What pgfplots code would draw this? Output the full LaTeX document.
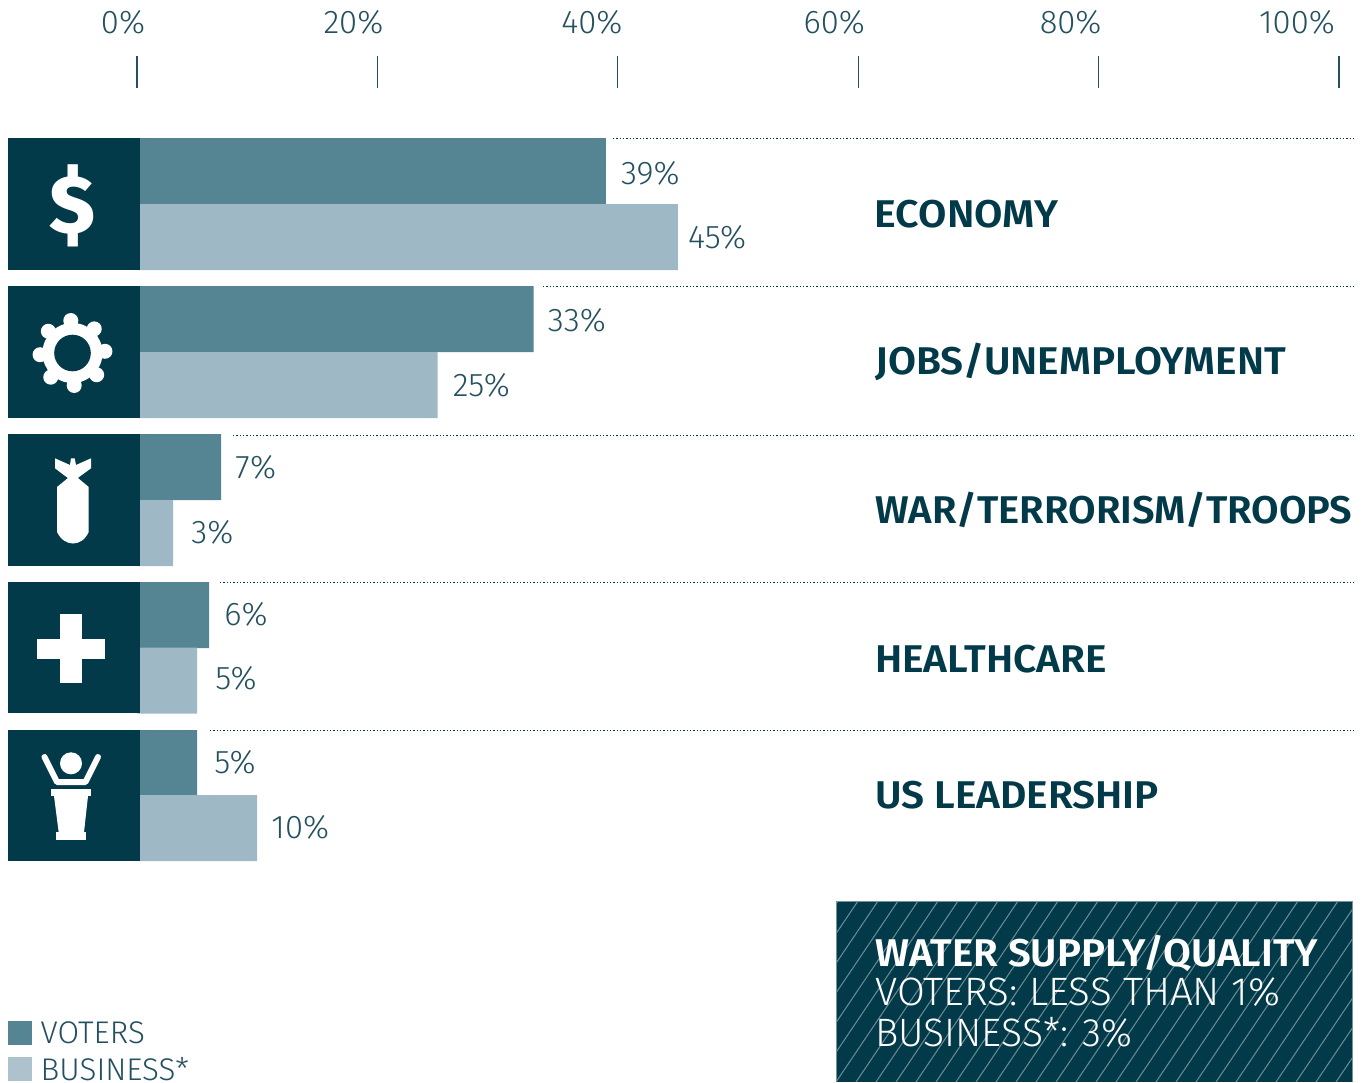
\documentclass[border=0pt]{standalone}
\usepackage{fontspec}
\usepackage{graphicx}
\usepackage{pgfplots}
\usepackage{pgfplotstable}
\usetikzlibrary{calc}
\pgfplotsset{compat=1.18}
\setmainfont{Fira Sans Light}
\newfontfamily\boldf[FakeStretch=1.05]{Fira Sans SemiBold}
\newfontfamily\dollarf{Fira Sans ExtraBold}
\definecolor{dark}{HTML}{023A4A}
\definecolor{voters}{HTML}{558492}
\definecolor{business}{HTML}{9EB9C5}
\definecolor{swbus}{HTML}{ADC2CD}
\definecolor{txt}{HTML}{24505F}
\pgfplotstableread{
y x dx dy
171 39 15 2
319 33 14 1
467 7 14 0
615 6 15 -1
763 5 17 -1
}\voterstab
\pgfplotstableread{
y x dx dy
237 45 10 0
385 25 15 0
533 3 18 -1
680.5 5 18 -2
828 10 14 -1
}\busitab
\newcommand\tl[2]{\makebox[0pt][c]{\hspace*{#1pt}#2}}
\newcommand\px[1]{\fontsize{#1}{#1}\selectfont}
\begin{document}
\begin{tikzpicture}[x=0.75pt,y=-0.75pt]
\path[use as bounding box] (0,0) rectangle (1367,1082);
\begin{axis}[
  at={(0pt,-66pt)},anchor=north west,
  scale only axis,width=1025.25pt,height=745.5pt,
  xmin=-11.398,xmax=102.33,ymin=88,ymax=1082,y dir=reverse,
  clip=false,
  axis x line*=top,hide y axis,
  axis line style={draw=none},
  xbar,bar shift=0pt,bar width=66,
  xtick={0,20,40,60,80,100},
  xticklabels={\tl{-21}{0\%},\tl{-36}{20\%},\tl{-39}{40\%},\tl{-36}{60\%},\tl{-42}{80\%},\tl{-63}{100\%}},
  tick align=outside,major tick length=24pt,
  x tick style={draw=txt,line width=1pt},
  ytick=\empty,
  xticklabel style={font=\px{24.6},text=txt,anchor=center,yshift=25.5pt},
  xtick pos=upper,
  /pgf/number format/assume math mode=true,
  legend cell align=left,
  legend style={at={(axis cs:-10.73,1021)},anchor=north west,draw=none,fill=none,
    inner sep=0pt,outer sep=0pt,font=\px{23.5},text=txt,row sep=9pt,
    nodes={inner sep=0pt,outer sep=0pt,text depth=0pt}},
  nodes near coords={\pgfmathprintnumber[fixed,precision=0]{\pgfplotspointmeta}\%},
  point meta=x,
  visualization depends on={\thisrow{dx} \as \dx},
  visualization depends on={\thisrow{dy} \as \dy},
  every node near coord/.append style={font=\px{24.6},text=txt,anchor=west,inner sep=0pt,xshift=\dx*0.75pt,yshift=-\dy*0.75pt},
]
\addplot[fill=voters,draw=none,
  legend image code/.code={\fill[voters] (0pt,-9pt) rectangle (18pt,9pt);}]
  table[x=x,y=y]{\voterstab};
\addlegendentry{\hspace*{6.5pt}VOTERS}
\addplot[fill=business,draw=none,
  legend image code/.code={\fill[swbus] (0pt,-9pt) rectangle (18pt,9pt);}]
  table[x=x,y=y]{\busitab};
\addlegendentry{\hspace*{6.5pt}BUSINESS*}
\end{axis}
% icon boxes
\foreach \t/\b in {138/270,286/418,434/566,582/713,730/861}
  \fill[dark] (8,\t) rectangle (140,\b);
% dollar
\node[text=white,font={\dollarf\px{62}}] at (72,206) {\$};
% gear
\fill[white] (72.5,353) circle (30);
\foreach \a in {0,45,...,315}
  \fill[white] ($(72.5,353)+(\a-3:32.5)$) circle (7.5);
\fill[dark] (72.5,353) circle (18.3);
% bomb
\fill[white] (55,458.3)--(70,465)--(71,458.3)--(74.7,458.3)--(76,465)--(91,458.3)--(91,468.3)--(77.3,478.3)--(68.3,478.3)--(55,468.3)--cycle;
\fill[white] (57,487)--(68,478)--(78,478)--(88.7,487)--(88.7,532) .. controls (85,540) and (79,543.5) .. (73,543.5) .. controls (67,543.5) and (61,540) .. (57,532)--cycle;
% cross
\fill[white] (59.7,614) rectangle (82,683.3);
\fill[white] (37,639) rectangle (105,658.7);
% podium person
\fill[white] (71,763.3) circle (11);
\draw[white,line width=4.5pt,line cap=round,line join=round] (44.5,757)--(57,782)--(85.5,782)--(98,757);
\fill[white] (50.7,788.7) rectangle (91,796);
\fill[white] (54,796)--(88,796)--(84,832.3)--(58.7,832.3)--cycle;
\fill[white] (56,832.3) rectangle (86,840);
% dotted
\foreach \xa/\ya in {613/138.5,543/286.5,233/435.5,220/582.5,210/730.5}
  \draw[dark,line width=0.75pt,dash pattern=on 1.1pt off 1.4pt] (\xa,\ya)--(1354,\ya);
% categories
\begin{scope}[every node/.style={anchor=west,inner sep=0pt,text=dark,font={\boldf\px{29}}}]
\node at (874.5,214) {\scalebox{1.013}[1]{ECONOMY}};
\node at (875,362) {JOBS/UNEMPLOYMENT};
\node at (875,510) {\scalebox{0.983}[1]{WAR/TERRORISM/TROOPS}};
\node at (875,659) {HEALTHCARE};
\node at (875,795) {US LEADERSHIP};
\end{scope}
% water box
\fill[dark] (836,901) rectangle (1352,1082);
\begin{scope}
\clip (836,901) rectangle (1352,1082);
\foreach \k in {0,...,32}
  \draw[white!42!dark,line width=0.75pt] ({716+\k*20},1082)--({716+\k*20+122},901);
\end{scope}
\draw[white!45!dark,line width=0.75pt] (836,1082)--(836,901)--(1352,901)--(1352,1082);
\begin{scope}[every node/.style={anchor=west,inner sep=0pt,text=white}]
\node[font={\boldf\px{29}}] at (875,953) {\scalebox{0.993}[1]{WATER SUPPLY/QUALITY}};
\node[font={\px{29.7}}] at (875,992) {\scalebox{1.02}[1]{VOTERS: LESS THAN 1\%}};
\node[font={\px{29.7}}] at (875,1032) {\scalebox{0.985}[1]{BUSINESS*: 3\%}};
\end{scope}
\end{tikzpicture}
\end{document}
